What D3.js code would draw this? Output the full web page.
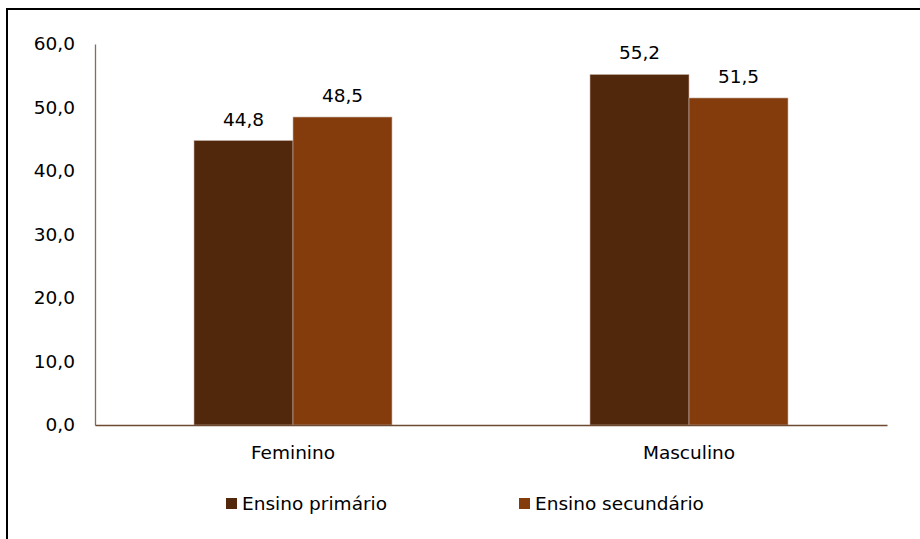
<!DOCTYPE html>
<html>
<head>
  <script src="https://d3js.org/d3.v7.min.js"></script>
  <style>
    body { margin: 0; background: #fff; }
    text { font-family: "DejaVu Sans", sans-serif; font-size: 18.5px; fill: #000; }
  </style>
</head>
<body>
  <svg width="920" height="539"></svg>
  <script>
    var categories = ["Feminino", "Masculino"];
    var seriesNames = ["Ensino primário", "Ensino secundário"];
    var primario = [44.8, 55.2];
    var secundario = [48.5, 51.5];
    var yTicks = [0, 10, 20, 30, 40, 50, 60];
    var colors = ["#52280c", "#843c0c"];

    var svg = d3.select("svg");

    // outer frame (only top and left visible in the reference)
    svg.append("rect")
      .attr("x", 7).attr("y", 9)
      .attr("width", 930).attr("height", 560)
      .attr("fill", "none")
      .attr("stroke", "#000")
      .attr("stroke-width", 2);

    var margin = {left: 95, top: 44, right: 33, bottom: 114},
      width = 920 - margin.left - margin.right,
      height = 539 - margin.top - margin.bottom;

    var g = svg.append("g")
      .attr("transform", "translate(" + margin.left + "," + margin.top + ")");

    var x = d3.scaleBand().domain(categories).range([0, width]).paddingInner(0).paddingOuter(0);
    var x1 = d3.scaleBand().domain(seriesNames).range([0, x.bandwidth()]).paddingOuter(1).paddingInner(0);
    var y = d3.scaleLinear().domain([0, 60]).range([height, 0]);

    var fmt = function(v) { return d3.format(".1f")(v).replace(".", ","); };

    var data = categories.map(function(c, i) {
      return {cat: c, values: [primario[i], secundario[i]]};
    });

    var groups = g.selectAll(".grp")
      .data(data)
      .enter().append("g")
      .attr("class", "grp")
      .attr("transform", function(d) { return "translate(" + x(d.cat) + ",0)"; });

    groups.selectAll("rect")
      .data(function(d) { return d.values.map(function(v, j) { return {s: seriesNames[j], v: v, j: j}; }); })
      .enter().append("rect")
      .attr("x", function(d) { return x1(d.s); })
      .attr("y", function(d) { return y(d.v); })
      .attr("width", x1.bandwidth())
      .attr("height", function(d) { return height - y(d.v); })
      .attr("fill", function(d) { return colors[d.j]; })
      .attr("stroke", "#c9b3a5")
      .attr("stroke-width", 0.6);

    groups.selectAll(".lbl")
      .data(function(d) { return d.values.map(function(v, j) { return {s: seriesNames[j], v: v}; }); })
      .enter().append("text")
      .attr("class", "lbl")
      .attr("x", function(d) { return x1(d.s) + x1.bandwidth() / 2; })
      .attr("y", function(d) { return y(d.v) - 15; })
      .attr("text-anchor", "middle")
      .text(function(d) { return fmt(d.v); });

    // y axis
    var yAxis = g.append("g")
      .call(d3.axisLeft(y).tickValues(yTicks).tickSize(0).tickPadding(20).tickFormat(fmt));
    yAxis.attr("font-size", null).attr("font-family", null);
    yAxis.select(".domain").attr("stroke", "#8c6a55").attr("stroke-width", 1.3);
    yAxis.selectAll("text").attr("fill", "#000");

    // x axis
    var xAxis = g.append("g")
      .attr("transform", "translate(0," + height + ")")
      .call(d3.axisBottom(x).tickSize(0).tickPadding(21));
    xAxis.attr("font-size", null).attr("font-family", null);
    xAxis.select(".domain").attr("stroke", "#6e4a32").attr("stroke-width", 1.5);
    xAxis.selectAll("text").attr("fill", "#000");

    // legend
    var legendX = [226, 519];
    var legend = svg.selectAll(".leg")
      .data(seriesNames)
      .enter().append("g")
      .attr("class", "leg")
      .attr("transform", function(d, i) { return "translate(" + legendX[i] + ",498)"; });
    legend.append("rect")
      .attr("width", 11).attr("height", 11)
      .attr("fill", function(d, i) { return colors[i]; });
    legend.append("text")
      .attr("x", 16).attr("y", 12)
      .text(function(d) { return d; });
  </script>
</body>
</html>
